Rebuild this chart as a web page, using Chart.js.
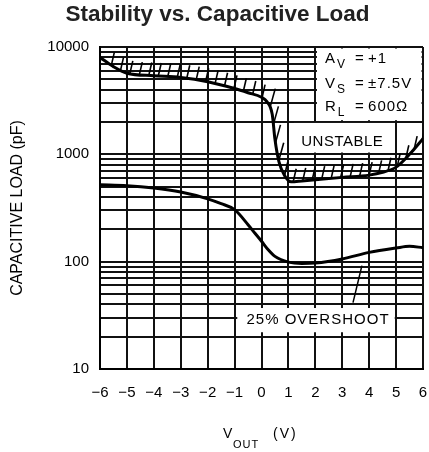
<!DOCTYPE html>
<html>
<head>
<meta charset="utf-8">
<script src="https://cdn.jsdelivr.net/npm/chart.js@4"></script>
<style>
  html, body { margin: 0; background: #fff; }
</style>
</head>
<body>
<canvas id="chart" width="429" height="452"></canvas>
<script>
// Stability vs. Capacitive Load — unstable boundary + 25% overshoot curve
const voutUnstable = [-6, -5.5, -5, -4, -3, -2, -1, -0.5, 0, 0.2, 0.4, 0.5, 0.65, 0.85, 1.1, 1.5, 2, 3, 4, 4.5, 5, 5.5, 6];
const capUnstable  = [8000, 6560, 5700, 5400, 5200, 4750, 4100, 3750, 3400, 3100, 2350, 1380, 850, 640, 555, 565, 580, 610, 640, 680, 760, 1000, 1400];
const voutOvershoot = [-6, -5, -4, -3, -2, -1.5, -1, -0.5, -0.25, 0, 0.25, 0.5, 1, 1.5, 2, 3, 4, 5, 5.5, 6];
const capOvershoot  = [520, 510, 485, 445, 385, 347, 305, 221, 185, 155, 129, 112, 99, 96, 97, 106, 122, 134, 139, 135];
const xTickValues = [-6, -5, -4, -3, -2, -1, 0, 1, 2, 3, 4, 5, 6];
const yTickLabels = [10, 100, 1000, 10000];

const FONT = "'Liberation Sans', Arial, sans-serif";

// log grid: 1..9 per decade
const yGridValues = [];
[10, 100, 1000].forEach(d => { for (let m = 1; m <= 9; m++) yGridValues.push(m * d); });
yGridValues.push(10000);

// white label boxes [xMin, xMax, capMin, capMax]
const labelBoxes = [
  [2.06, 6, 2080, 10000],
  [1.2, 4.96, 1040, 1960],
  [-0.9, 4.95, 22, 37],
];

function sampleCurve(meta) {
  const pts = meta.data, out = [];
  for (let i = 0; i < pts.length - 1; i++) {
    const a = pts[i], b = pts[i + 1];
    const c1x = a.cp2x ?? a.x, c1y = a.cp2y ?? a.y;
    const c2x = b.cp1x ?? b.x, c2y = b.cp1y ?? b.y;
    for (let k = 0; k < 20; k++) {
      const t = k / 20, u = 1 - t;
      out.push({
        x: u*u*u*a.x + 3*u*u*t*c1x + 3*u*t*t*c2x + t*t*t*b.x,
        y: u*u*u*a.y + 3*u*u*t*c1y + 3*u*t*t*c2y + t*t*t*b.y,
      });
    }
  }
  const last = pts[pts.length - 1];
  out.push({ x: last.x, y: last.y });
  return out;
}

function subText(ctx, x, y, main, sub, size) {
  ctx.font = size + 'px ' + FONT;
  ctx.fillText(main, x, y);
  const w = ctx.measureText(main).width;
  ctx.font = (size - 3) + 'px ' + FONT;
  ctx.fillText(sub, x + w + 1, y + 5);
}

const overlay = {
  id: 'overlay',
  beforeDatasetsDraw(chart) {
    const { ctx, chartArea: ca, scales: { x, y } } = chart;
    ctx.save();
    ctx.fillStyle = '#fff';
    labelBoxes.forEach(b => {
      const x0 = Math.max(x.getPixelForValue(b[0]), ca.left + 1.5);
      const x1 = Math.min(x.getPixelForValue(b[1]), ca.right - 1.5);
      const y0 = Math.max(y.getPixelForValue(b[3]), ca.top + 1.5);
      const y1 = y.getPixelForValue(b[2]);
      ctx.fillRect(x0, y0, x1 - x0, y1 - y0);
    });
    ctx.restore();
  },
  afterDatasetsDraw(chart) {
    const { ctx, chartArea: ca, scales: { x, y } } = chart;
    ctx.save();
    // hatching on the unstable side (steep parts get sparser, longer ticks)
    ctx.beginPath();
    ctx.rect(ca.left, ca.top, ca.right - ca.left, ca.bottom - ca.top);
    ctx.clip();
    const path = sampleCurve(chart.getDatasetMeta(0));
    ctx.strokeStyle = '#000';
    ctx.lineWidth = 1.6;
    let acc = 0, next = 12;
    for (let i = 1; i < path.length; i++) {
      const p = path[i - 1], q = path[i];
      const seg = Math.hypot(q.x - p.x, 0.5 * (q.y - p.y));
      while (seg > 0 && acc + seg >= next) {
        const t = (next - acc) / seg;
        const hx = p.x + (q.x - p.x) * t, hy = p.y + (q.y - p.y) * t;
        const steep = Math.abs(q.y - p.y) > 2 * Math.abs(q.x - p.x);
        ctx.beginPath();
        ctx.moveTo(hx, hy);
        ctx.lineTo(hx + (steep ? 5 : 3), hy - (steep ? 18 : 13));
        ctx.stroke();
        next += 9.5;
      }
      acc += seg;
    }
    // leader line to overshoot label
    ctx.lineWidth = 1.5;
    ctx.beginPath();
    ctx.moveTo(x.getPixelForValue(3.73), y.getPixelForValue(92));
    ctx.lineTo(x.getPixelForValue(3.40), y.getPixelForValue(41.6));
    ctx.stroke();
    ctx.restore();

    // labels
    ctx.save();
    ctx.fillStyle = '#000';
    ctx.textBaseline = 'alphabetic';
    ctx.textAlign = 'left';
    ctx.letterSpacing = '1px';
    const lx = x.getPixelForValue(2.36), ex = x.getPixelForValue(3.47), vx = x.getPixelForValue(3.96);
    [['A', 'V', '+1', 7100], ['V', 'S', '±7.5V', 4180], ['R', 'L', '600Ω', 2540]].forEach(r => {
      const by = y.getPixelForValue(r[3]);
      subText(ctx, lx, by, r[0], r[1], 15);
      ctx.font = '15px ' + FONT;
      ctx.fillText('=', ex, by);
      ctx.fillText(r[2], vx, by);
    });
    ctx.textAlign = 'center';
    ctx.textBaseline = 'middle';
    ctx.font = '15px ' + FONT;
    ctx.letterSpacing = '0.5px';
    ctx.fillText('UNSTABLE', x.getPixelForValue(3.0), y.getPixelForValue(1320));
    ctx.letterSpacing = '1px';
    ctx.fillText('25% OVERSHOOT', x.getPixelForValue(2.1), y.getPixelForValue(28.8));
    ctx.restore();
  },
  afterDraw(chart) {
    const { ctx, scales: { x } } = chart;
    const cx = (x.left + x.right) / 2;
    ctx.save();
    ctx.fillStyle = '#000';
    ctx.textAlign = 'left';
    ctx.textBaseline = 'alphabetic';
    ctx.font = '14px ' + FONT;
    ctx.letterSpacing = '0px';
    ctx.fillText('V', cx - 38.5, 438);
    ctx.font = '11px ' + FONT;
    ctx.letterSpacing = '1px';
    ctx.fillText('OUT', cx - 28.5, 448);
    ctx.font = '14px ' + FONT;
    ctx.letterSpacing = '2px';
    ctx.fillText('(V)', cx + 11.5, 438);
    ctx.restore();
  },
};

const gridStyle = { color: '#111', lineWidth: 2, drawTicks: false };

new Chart(document.getElementById('chart'), {
  type: 'line',
  data: {
    datasets: [
      {
        label: 'Unstable boundary',
        data: voutUnstable.map((v, i) => ({ x: v, y: capUnstable[i] })),
        borderColor: '#000', borderWidth: 3, pointRadius: 0, fill: false,
        cubicInterpolationMode: 'monotone',
      },
      {
        label: '25% overshoot',
        data: voutOvershoot.map((v, i) => ({ x: v, y: capOvershoot[i] })),
        borderColor: '#000', borderWidth: 3, pointRadius: 0, fill: false,
        cubicInterpolationMode: 'monotone',
      },
    ],
  },
  options: {
    responsive: false, animation: false, devicePixelRatio: 1,
    layout: { padding: { left: 12, right: 6, top: 0, bottom: 0 } },
    plugins: {
      legend: { display: false },
      tooltip: { enabled: false },
      title: {
        display: true, text: 'Stability vs. Capacitive Load', color: '#222',
        font: { family: FONT, size: 22.5, weight: 'bold', lineHeight: 1.2 },
        padding: { top: 1, bottom: 19 },
      },
    },
    scales: {
      x: {
        type: 'linear', min: -6, max: 6,
        afterBuildTicks: (s) => { s.ticks = xTickValues.map(v => ({ value: v })); },
        afterFit: (s) => { s.height = 83; s.paddingRight = 0; s.paddingLeft = 0; },
        ticks: {
          color: '#000', padding: 15, maxRotation: 0, autoSkip: false,
          font: { family: FONT, size: 15 },
          callback: (v) => (v < 0 ? '\u2212' + Math.abs(v) : String(v)),
        },
        grid: gridStyle,
        border: { color: '#000', width: 2 },
      },
      y: {
        type: 'logarithmic', min: 10, max: 10000,
        afterBuildTicks: (s) => { s.ticks = yGridValues.map(v => ({ value: v })); },
        afterFit: (s) => { s.width = 88; },
        ticks: {
          color: '#000', padding: 11, autoSkip: false,
          font: { family: FONT, size: 15 },
          callback: (v) => (yTickLabels.includes(v) ? String(v) : ''),
        },
        grid: gridStyle,
        border: { color: '#000', width: 2 },
        title: {
          display: true, text: 'CAPACITIVE LOAD (pF)', color: '#000',
          font: { family: FONT, size: 16 }, padding: { top: -3.6, bottom: 0 },
        },
      },
    },
  },
  plugins: [overlay],
});
</script>
</body>
</html>
